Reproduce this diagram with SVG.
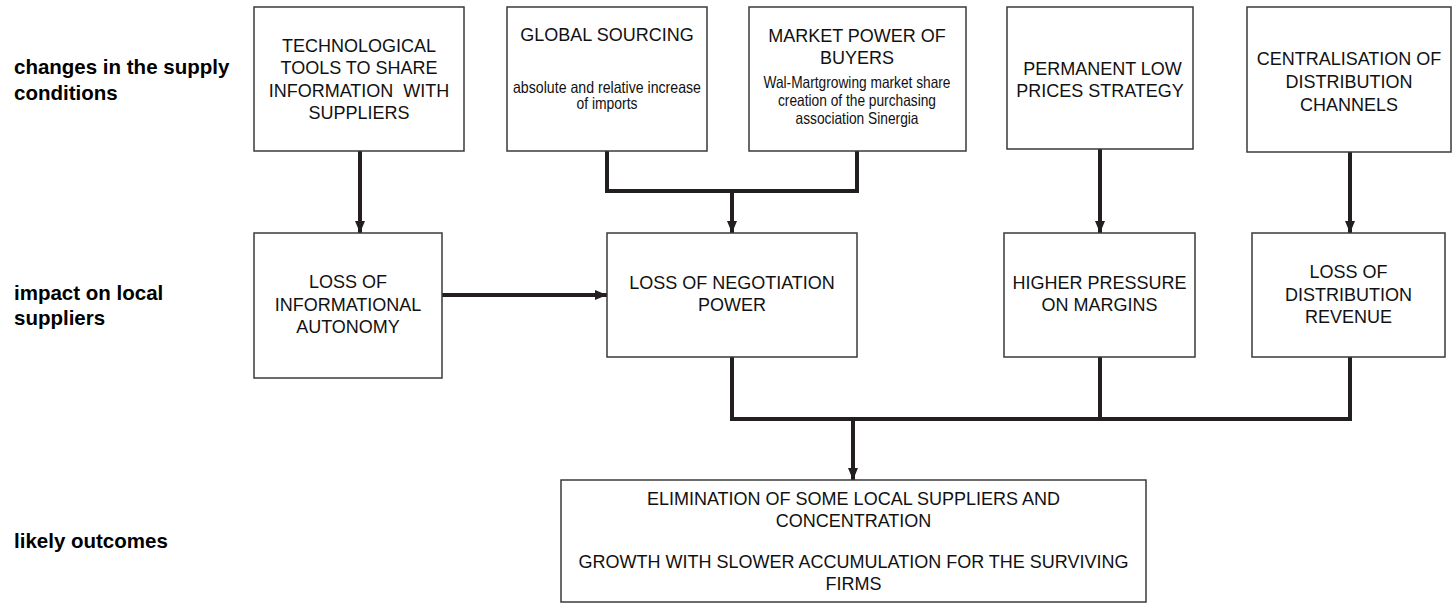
<svg xmlns="http://www.w3.org/2000/svg" width="1453" height="604" viewBox="0 0 1453 604">
<style>
.box{fill:#fff;stroke:#3a3a3a;stroke-width:1.5}
.t{font-family:"Liberation Sans",Arial,sans-serif;font-size:18px;fill:#111;text-anchor:middle;white-space:pre}
.s{font-family:"Liberation Sans",Arial,sans-serif;font-size:16.5px;fill:#111;text-anchor:middle}
.lbl{font-family:"Liberation Sans",Arial,sans-serif;font-size:20.5px;font-weight:bold;fill:#000}
.c{fill:none;stroke:#231f20;stroke-width:4}
</style>
<defs>
<marker id="ah" markerUnits="userSpaceOnUse" markerWidth="13" markerHeight="12" refX="12" refY="6" orient="auto">
<path d="M0,1 L12,6 L0,11 Z" fill="#231f20"/>
</marker>
</defs>
<rect width="1453" height="604" fill="#fff"/>
<g id="labels">
<text class="lbl" x="14" y="74">changes in the supply</text>
<text class="lbl" x="14" y="100">conditions</text>
<text class="lbl" x="14" y="300">impact on local</text>
<text class="lbl" x="14" y="325">suppliers</text>
<text class="lbl" x="14" y="548">likely outcomes</text>
</g>
<g id="connectors">
<line class="c" x1="360" y1="151" x2="360" y2="233" marker-end="url(#ah)"/>
<polyline class="c" points="607,151 607,191 857,191 857,151"/>
<line class="c" x1="732" y1="191" x2="732" y2="233" marker-end="url(#ah)"/>
<line class="c" x1="1100" y1="149" x2="1100" y2="233" marker-end="url(#ah)"/>
<line class="c" x1="1350" y1="152" x2="1350" y2="233" marker-end="url(#ah)"/>
<line class="c" x1="442" y1="295" x2="607" y2="295" marker-end="url(#ah)"/>
<polyline class="c" points="732,357 732,419 1350,419 1350,357"/>
<line class="c" x1="1100" y1="357" x2="1100" y2="419"/>
<line class="c" x1="853" y1="419" x2="853" y2="480" marker-end="url(#ah)"/>
</g>
<g id="n-tech">
<rect class="box" x="254" y="7" width="210" height="144"/>
<text class="t" x="359" y="52">TECHNOLOGICAL</text>
<text class="t" x="359" y="74">TOOLS TO SHARE</text>
<text class="t" x="359" y="97">INFORMATION  WITH</text>
<text class="t" x="359" y="119">SUPPLIERS</text>
</g>
<g id="n-global">
<rect class="box" x="507" y="7" width="200" height="144"/>
<text class="t" x="607" y="41">GLOBAL SOURCING</text>
<text class="s" x="607" y="93" textLength="188" lengthAdjust="spacingAndGlyphs">absolute and relative increase</text>
<text class="s" x="607" y="109" textLength="61" lengthAdjust="spacingAndGlyphs">of imports</text>
</g>
<g id="n-market">
<rect class="box" x="749" y="7" width="217" height="144"/>
<text class="t" x="857" y="42">MARKET POWER OF</text>
<text class="t" x="857" y="64">BUYERS</text>
<text class="s" x="857" y="88" textLength="187" lengthAdjust="spacingAndGlyphs">Wal-Martgrowing market share</text>
<text class="s" x="857" y="106" textLength="158" lengthAdjust="spacingAndGlyphs">creation of the purchasing</text>
<text class="s" x="857" y="124" textLength="123" lengthAdjust="spacingAndGlyphs">association Sinergia</text>
</g>
<g id="n-prices">
<rect class="box" x="1007" y="7" width="186" height="142"/>
<text class="t" x="1100" y="75"> PERMANENT LOW</text>
<text class="t" x="1100" y="97">PRICES STRATEGY</text>
</g>
<g id="n-central">
<rect class="box" x="1247" y="7" width="204" height="145"/>
<text class="t" x="1349" y="65">CENTRALISATION OF</text>
<text class="t" x="1349" y="88">DISTRIBUTION</text>
<text class="t" x="1349" y="111">CHANNELS</text>
</g>
<g id="n-info">
<rect class="box" x="254" y="233" width="188" height="145"/>
<text class="t" x="348" y="288">LOSS OF</text>
<text class="t" x="348" y="311">INFORMATIONAL</text>
<text class="t" x="348" y="333">AUTONOMY</text>
</g>
<g id="n-negot">
<rect class="box" x="607" y="233" width="250" height="124"/>
<text class="t" x="732" y="289">LOSS OF NEGOTIATION</text>
<text class="t" x="732" y="311">POWER</text>
</g>
<g id="n-margins">
<rect class="box" x="1004" y="233" width="191" height="124"/>
<text class="t" x="1099.5" y="289">HIGHER PRESSURE</text>
<text class="t" x="1099.5" y="311">ON MARGINS</text>
</g>
<g id="n-revenue">
<rect class="box" x="1252" y="233" width="193" height="124"/>
<text class="t" x="1348.5" y="278">LOSS OF</text>
<text class="t" x="1348.5" y="301">DISTRIBUTION</text>
<text class="t" x="1348.5" y="323">REVENUE</text>
</g>
<g id="n-outcome">
<rect class="box" x="561" y="480" width="585" height="122"/>
<text class="t" x="853.5" y="505">ELIMINATION OF SOME LOCAL SUPPLIERS AND</text>
<text class="t" x="853.5" y="527">CONCENTRATION</text>
<text class="t" x="853.5" y="568">GROWTH WITH SLOWER ACCUMULATION FOR THE SURVIVING</text>
<text class="t" x="853.5" y="590">FIRMS</text>
</g>
</svg>
